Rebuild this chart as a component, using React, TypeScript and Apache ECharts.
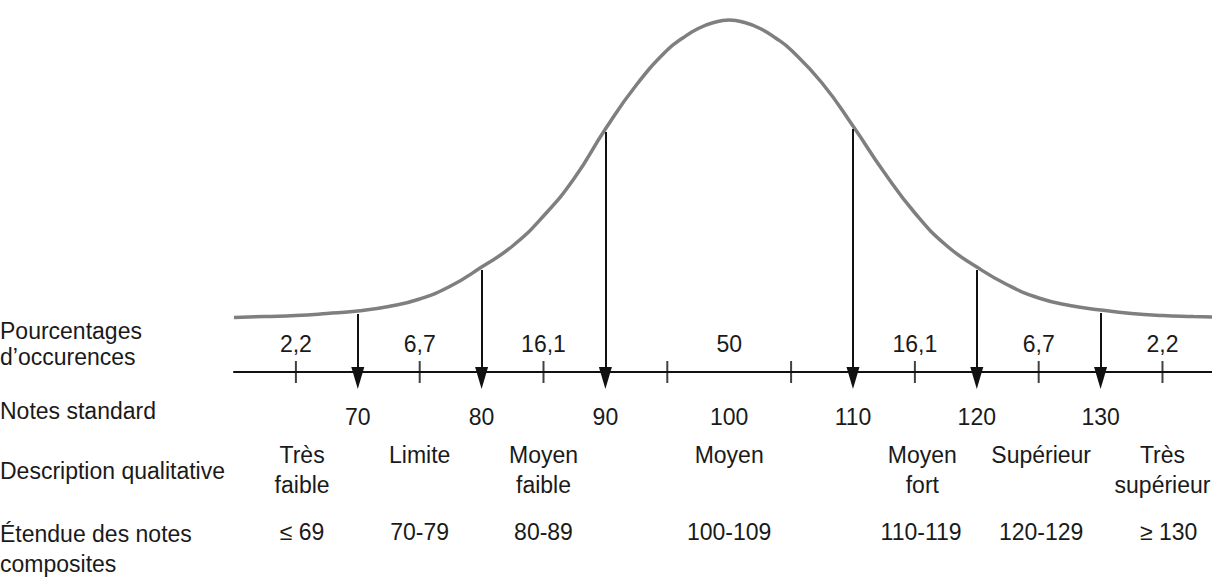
import React, { useEffect, useRef } from "react";
import * as echarts from "echarts";

// Bell curve: score (x) and relative height above the score axis
const curveX = [60, 62.5, 65, 67.5, 70, 72.5, 75, 77.5, 80, 82.5, 85, 87.5, 90, 92.5, 95, 96.25, 97.5, 98.75, 100, 101.25, 102.5, 103.75, 105, 107.5, 110, 112.5, 115, 117.5, 120, 122.5, 125, 127.5, 130, 132.5, 135, 137.5, 139];
const curveH = [54.5, 55.5, 56.5, 58.5, 61, 65.5, 73, 86, 105, 126, 156, 194, 243, 287, 322, 334, 343.5, 349.5, 352, 349.5, 343.5, 334, 322, 289, 246, 200, 159, 127, 105, 87, 74, 66.5, 62, 58.5, 56.5, 55.5, 55];

const arrowValues = [70, 80, 90, 110, 120, 130];
const tickValues = [65, 75, 85, 95, 105, 115, 125, 135];
const notesStandard = [70, 80, 90, 100, 110, 120, 130];
const notesLabels = ["70", "80", "90", "100", "110", "120", "130"];

const pctPos = [65, 75, 85, 100, 115, 125, 135];
const pctLabels = ["2,2", "6,7", "16,1", "50", "16,1", "6,7", "2,2"];

const descPos = [65.5, 75, 85, 100, 115.6, 125.2, 135];
const descLabels = ["Très\nfaible", "Limite", "Moyen\nfaible", "Moyen", "Moyen\nfort", "Supérieur", "Très\nsupérieur"];

const rangePos = [65.5, 75, 85, 100, 115.5, 125.2, 135.5];
const rangeLabels = ["≤ 69", "70-79", "80-89", "100-109", "110-119", "120-129", "≥ 130"];

const rowTitles = ["Pourcentages\nd’occurences", "Notes standard", "Description qualitative", "Étendue des notes\ncomposites"];

const FONT = "'Liberation Sans', Arial, sans-serif";
const TXT = "#1a1a1a";

function valueAt(v: number): number {
  const i = curveX.indexOf(v);
  return i >= 0 ? curveH[i] : 0;
}

function rowAxis(offset: number, pos: number[], labels: string[], lineHeight: number) {
  return {
    type: "value",
    gridIndex: 0,
    position: "bottom",
    offset,
    min: 60,
    max: 139,
    axisLine: { show: false, onZero: false },
    axisTick: { show: false },
    splitLine: { show: false },
    axisLabel: {
      customValues: pos,
      margin: 0,
      fontSize: 23,
      fontFamily: FONT,
      color: TXT,
      lineHeight,
      formatter: (val: number) => {
        const i = pos.indexOf(val);
        return i >= 0 ? labels[i] : "";
      },
    },
  };
}

export default function App() {
  const ref = useRef<HTMLDivElement>(null);

  useEffect(() => {
    document.body.style.margin = "0";
    const chart = echarts.init(ref.current!, null, { renderer: "svg" });
    const option: any = {
      animation: false,
      backgroundColor: "#ffffff",
      grid: { left: 234, right: 0, top: 12, bottom: 185, containLabel: false, outerBoundsMode: "none" },
      xAxis: [
        {
          type: "value",
          min: 60,
          max: 139,
          axisLine: { show: true, onZero: true, lineStyle: { color: "#111", width: 2 } },
          axisTick: { show: false },
          splitLine: { show: false },
          axisLabel: { show: false },
        },
        rowAxis(-73, pctPos, pctLabels, 30),
        rowAxis(0, notesStandard, notesLabels, 30),
        rowAxis(38, descPos, descLabels, 30),
        rowAxis(115, rangePos, rangeLabels, 30),
      ],
      yAxis: {
        type: "value",
        min: -30,
        max: 360,
        show: false,
        splitLine: { show: false },
      },
      graphic: [
        {
          type: "text",
          x: 0,
          y: 344,
          style: { text: rowTitles[0], fontSize: 23, fontFamily: FONT, fill: TXT, lineHeight: 26, verticalAlign: "middle" },
        },
        {
          type: "text",
          x: 0,
          y: 411,
          style: { text: rowTitles[1], fontSize: 23, fontFamily: FONT, fill: TXT, verticalAlign: "middle" },
        },
        {
          type: "text",
          x: 0,
          y: 471,
          style: { text: rowTitles[2], fontSize: 23, fontFamily: FONT, fill: TXT, verticalAlign: "middle" },
        },
        {
          type: "text",
          x: 0,
          y: 549,
          style: { text: rowTitles[3], fontSize: 23, fontFamily: FONT, fill: TXT, lineHeight: 30, verticalAlign: "middle" },
        },
      ],
      series: [
        {
          type: "line",
          xAxisIndex: 0,
          data: curveX.map((x, i) => [x, curveH[i]]),
          smooth: 0.5,
          symbol: "none",
          clip: false,
          lineStyle: { color: "#7f7f7f", width: 3.5 },
          z: 3,
          silent: true,
          markLine: {
            silent: true,
            symbol: ["none", "triangle"],
            symbolSize: [13, 22],
            label: { show: false },
            lineStyle: { color: "#111", width: 2, type: "solid" },
            emphasis: { disabled: true },
            data: arrowValues.map((v) => [
              { coord: [v, valueAt(v) - 3] },
              { coord: [v, -6] },
            ]),
          },
        },
        {
          type: "scatter",
          xAxisIndex: 0,
          data: tickValues.map((v) => [v, 0]),
          symbol: "rect",
          symbolSize: [2, 22],
          itemStyle: { color: "#111" },
          silent: true,
          z: 4,
        },
      ],
    };
    chart.setOption(option);
    return () => chart.dispose();
  }, []);

  return (
    <div
      ref={ref}
      style={{ position: "fixed", left: 0, top: 0, width: 1212, height: 587, background: "#fff" }}
    />
  );
}
